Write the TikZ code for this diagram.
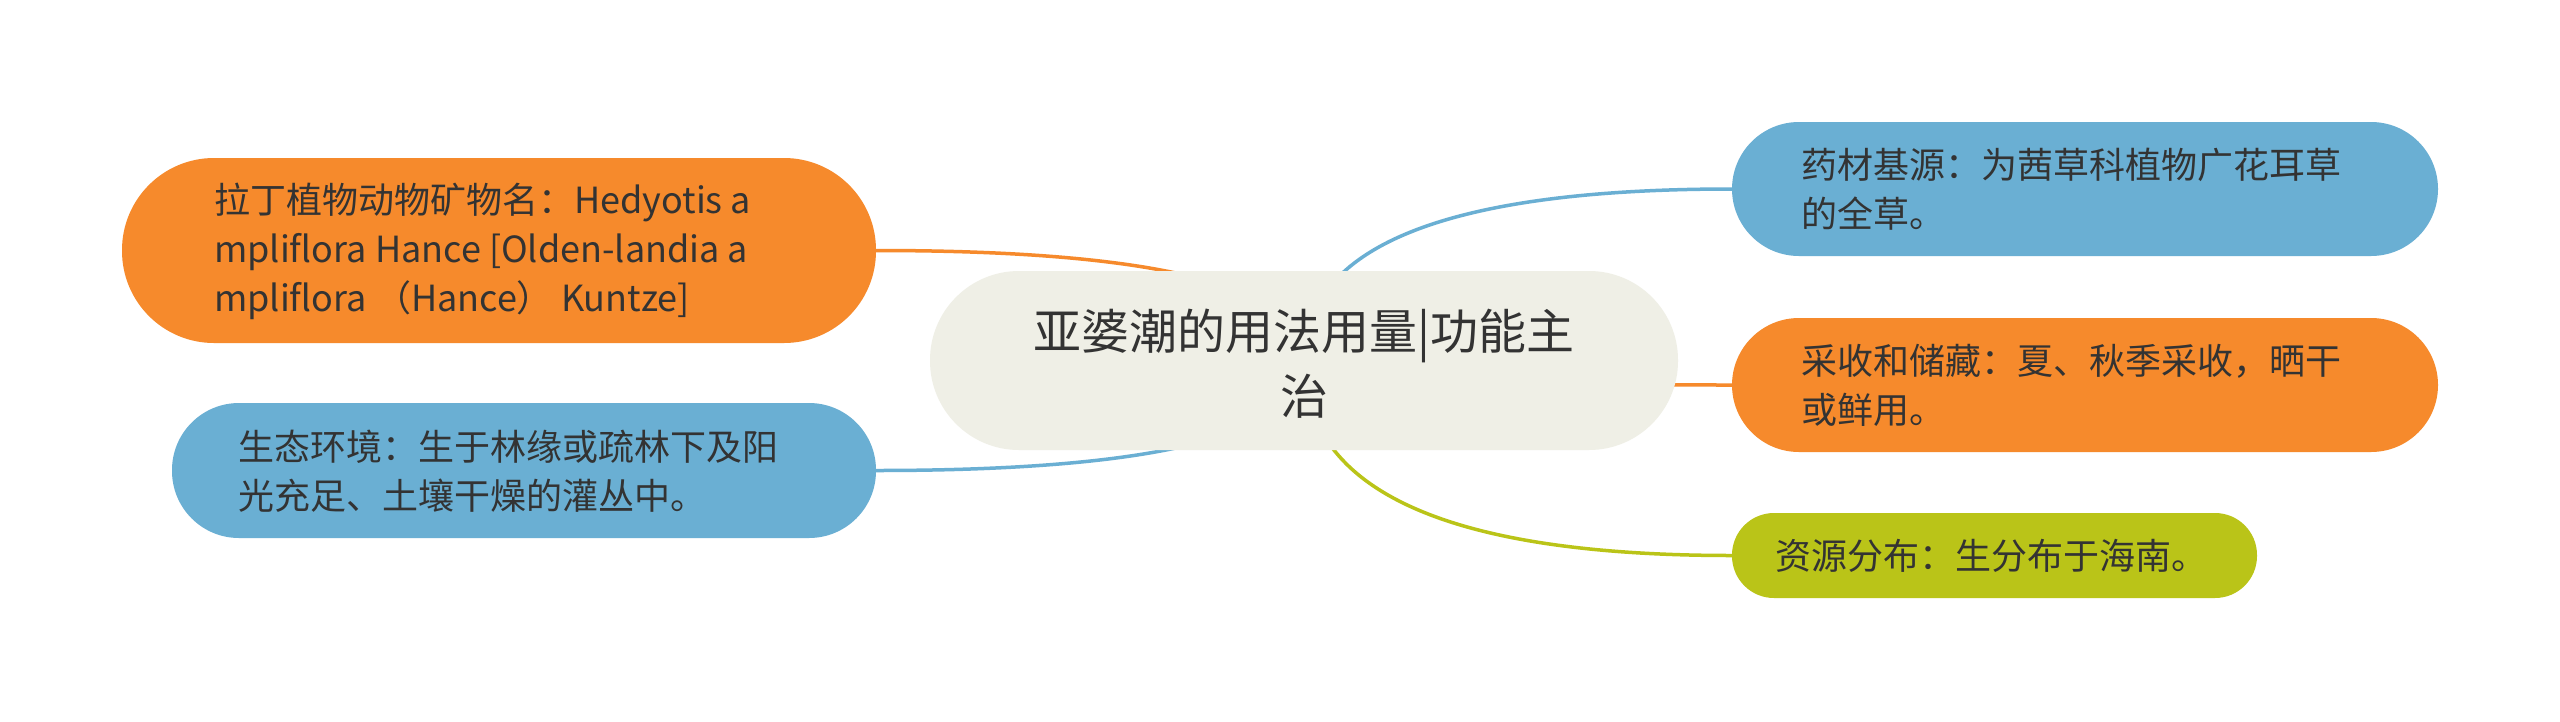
\documentclass[tikz,border=0pt]{standalone}
\usepackage{fontspec}
\setmainfont{Noto Sans CJK SC}
\usetikzlibrary{backgrounds,calc}
\definecolor{corange}{HTML}{F68A2C}
\definecolor{cblue}{HTML}{6AAFD3}
\definecolor{cgreen}{HTML}{BAC418}
\definecolor{croot}{HTML}{EFEFE6}
\definecolor{ctext}{HTML}{333333}
\tikzset{
  box/.style={draw=none, inner sep=0pt, rectangle},
  txt/.style={inner sep=0pt, align=left, text=ctext, anchor=west,
    font=\fontsize{36}{49}\selectfont},
  roottxt/.style={inner sep=0pt, align=center, text=ctext,
    font=\fontsize{48}{65}\selectfont},
  conn/.style={line width=3.5pt},
}
\newcommand{\qlink}[3]{% color, child anchor, root
  \draw[conn,#1] (#2) .. controls ($(#2)!0.6667!(#3 |- #2)$) and ($(#3)!0.6667!(#3 |- #2)$) .. (#3);}
\begin{document}
\begin{tikzpicture}[x=1pt,y=-1pt]
\useasboundingbox (0,0) rectangle (2560,721);
% root
\node[box, fill=croot, minimum width=748, minimum height=179, rounded corners=89] (root) at (1304,360.5) {};
\node[roottxt] (troot) at (1304,364) {亚婆潮的用法用量|功能主\\治};
% left children
\node[box, fill=corange, minimum width=754, minimum height=185, rounded corners=92] (lo) at (499,250.5) {};
\node[txt] (tlo) at (214,251) {拉丁植物动物矿物名：Hedyotis a\\mpliflora Hance [Olden-landia a\\mpliflora （Hance） Kuntze]};
\node[box, fill=cblue, minimum width=704, minimum height=135, rounded corners=67] (lb) at (524,470.5) {};
\node[txt] (tlb) at (238,471) {生态环境：生于林缘或疏林下及阳\\光充足、土壤干燥的灌丛中。};
% right children
\node[box, fill=cblue, minimum width=706, minimum height=134, rounded corners=67] (rb) at (2085,189) {};
\node[txt] (trb) at (1801,189) {药材基源：为茜草科植物广花耳草\\的全草。};
\node[box, fill=corange, minimum width=706, minimum height=134, rounded corners=67] (ro) at (2085,385) {};
\node[txt] (tro) at (1801,385) {采收和储藏：夏、秋季采收，晒干\\或鲜用。};
\node[box, fill=cgreen, minimum width=525, minimum height=85, rounded corners=42] (gr) at (1994.5,555.5) {};
\node[txt] (tgr) at (1775,555.5) {资源分布：生分布于海南。};
% connectors
\begin{pgfonlayer}{background}
\fill[white] (0,0) rectangle (2560,721);
\qlink{corange}{lo.east}{root.center}
\qlink{cblue}{lb.east}{root.center}
\qlink{cblue}{rb.west}{root.center}
\qlink{corange}{ro.west}{root.center}
\qlink{cgreen}{gr.west}{root.center}
\end{pgfonlayer}
\end{tikzpicture}
\end{document}
